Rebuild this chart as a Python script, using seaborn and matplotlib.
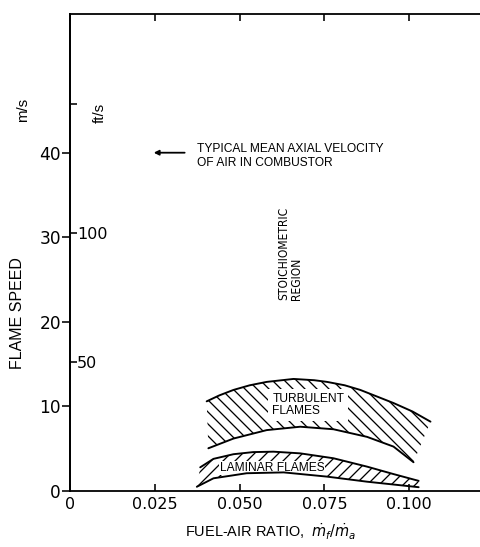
import numpy as np
import pandas as pd
import matplotlib
matplotlib.use("Agg")
import matplotlib.pyplot as plt
import seaborn as sns

# ---- data ----
turb_upper_x = [0.0403, 0.0440, 0.0482, 0.0530, 0.0580, 0.0659, 0.0720, 0.0758, 0.0810, 0.0856, 0.0954, 0.1010, 0.1063]
turb_upper_y = [10.6, 11.3, 11.95, 12.5, 12.9, 13.25, 13.1, 12.9, 12.5, 11.95, 10.4, 9.4, 8.2]
turb_lower_x = [0.0408, 0.0482, 0.0580, 0.0679, 0.0777, 0.0876, 0.0954, 0.1013]
turb_lower_y = [5.05, 6.2, 7.2, 7.6, 7.3, 6.4, 5.25, 3.4]
lam_upper_x = [0.0384, 0.0423, 0.0482, 0.0540, 0.0600, 0.0679, 0.0777, 0.0876, 0.0954, 0.1028]
lam_upper_y = [2.8, 3.8, 4.35, 4.6, 4.65, 4.45, 3.87, 2.88, 2.0, 1.2]
lam_lower_x = [0.0374, 0.0423, 0.0521, 0.0630, 0.0758, 0.0876, 0.1028]
lam_lower_y = [0.5, 1.5, 2.1, 2.2, 1.7, 1.1, 0.45]

x_ticks = [0, 0.025, 0.050, 0.075, 0.100]
x_tick_labels = ["0", "0.025", "0.050", "0.075", "0.100"]
y_ticks_ms = [0, 10, 20, 30, 40]
y_ticks_fts = [50, 100, 150]
y_tick_labels_fts = ["50", "100", ""]
typical_velocity = 40
FT_PER_M = 3.28084

# ---- figure ----
sns.set_style("ticks")
plt.rcParams["font.family"] = ["DejaVu Sans"]
plt.rcParams["hatch.linewidth"] = 1.3
plt.rcParams["hatch.color"] = "black"
plt.rcParams["text.color"] = "black"
plt.rcParams["axes.edgecolor"] = "black"
plt.rcParams["axes.labelcolor"] = "black"
plt.rcParams["xtick.color"] = "black"
plt.rcParams["ytick.color"] = "black"

DPI = 72
fig = plt.figure(figsize=(480 / DPI, 547 / DPI), dpi=DPI)
ax = fig.add_axes([70 / 480, 1 - 491 / 547, 410 / 480, 477 / 547])
xmax, ymax = 0.1209, 56.4
ax.set_xlim(0, xmax)
ax.set_ylim(0, ymax)

# hatched regions
ax.fill(turb_upper_x + turb_lower_x[::-1], turb_upper_y + turb_lower_y[::-1],
        facecolor="none", edgecolor="black", linewidth=0, hatch="\\\\", zorder=2)
ax.fill(lam_upper_x + lam_lower_x[::-1], lam_upper_y + lam_lower_y[::-1],
        facecolor="none", edgecolor="black", linewidth=0, hatch="//", zorder=2)

# boundary curves
for xs, ys in [(turb_upper_x, turb_upper_y), (turb_lower_x, turb_lower_y),
               (lam_upper_x, lam_upper_y), (lam_lower_x, lam_lower_y)]:
    sns.lineplot(x=xs, y=ys, ax=ax, color="black", linewidth=1.9,
                 sort=False, estimator=None, zorder=4)

txtfam = ["Liberation Sans", "DejaVu Sans"]
ax.text(0.0597, 10.2, "TURBULENT\nFLAMES", ha="left", va="center", ma="left",
        fontsize=12, family=txtfam, linespacing=1.05, zorder=3,
        bbox=dict(facecolor="white", edgecolor="none", pad=4.0))
ax.text(0.0442, 2.76, "LAMINAR FLAMES", ha="left", va="center",
        fontsize=12, family=txtfam, zorder=3,
        bbox=dict(facecolor="white", edgecolor="none", pad=1.0))
ax.text(0.0649, 22.6, "STOICHIOMETRIC\nREGION", rotation=90, ha="center", va="bottom",
        ma="left", fontsize=12, family=["Liberation Sans Narrow", "DejaVu Sans"],
        stretch="condensed", linespacing=1.0)

# arrow + note
ax.annotate("", xy=(0.0241, typical_velocity), xytext=(0.0344, typical_velocity),
            arrowprops=dict(arrowstyle="-|>", color="black", lw=1.8, mutation_scale=10))
ax.text(0.0374, 39.6, "TYPICAL MEAN AXIAL VELOCITY\nOF AIR IN COMBUSTOR", ha="left",
        va="center", fontsize=12, family=txtfam, linespacing=1.15)

# spines & ticks
for s in ["left", "bottom", "top"]:
    ax.spines[s].set_linewidth(1.8)
ax.spines["right"].set_visible(False)
ax.set_xticks(x_ticks)
ax.set_xticklabels(x_tick_labels)
ax.set_yticks(y_ticks_ms)
ax.tick_params(axis="x", which="both", direction="in", top=True, bottom=True,
               labeltop=False, length=7, width=1.6, pad=6, labelsize=16)
ax.tick_params(axis="y", direction="out", left=True, right=False, length=8,
               width=1.6, pad=1, labelsize=17)

ax.set_xlabel(r"FUEL-AIR RATIO,  $\dot{m}_f/\dot{m}_a$", fontsize=14.5, family=txtfam)
ax.xaxis.set_label_coords(0.49, -0.086)
ax.xaxis.label.set_va("center")
ax.set_ylabel("FLAME SPEED", fontsize=16, family=txtfam)
ax.yaxis.set_label_coords(-0.127, 0.373)
ax.yaxis.label.set_va("center")

# ft/s scale on the inside of the left spine
ax2 = ax.twinx()
ax2.set_ylim(0, ymax * FT_PER_M)
ax2.spines["right"].set_position(("axes", 0))
for s in ["left", "top", "bottom"]:
    ax2.spines[s].set_visible(False)
ax2.spines["right"].set_linewidth(1.8)
ax2.set_yticks(y_ticks_fts)
ax2.set_yticklabels(y_tick_labels_fts)
ax2.tick_params(axis="y", direction="out", length=7, width=1.6, pad=0, labelsize=16)

fig.text(23 / 480, 1 - 110 / 547, "m/s", rotation=90, ha="center", va="center",
         fontsize=15, family=txtfam)
fig.text(100 / 480, 1 - 113 / 547, "ft/s", rotation=90, ha="center", va="center",
         fontsize=15, family=txtfam)

fig.savefig("out.png", dpi=DPI)
